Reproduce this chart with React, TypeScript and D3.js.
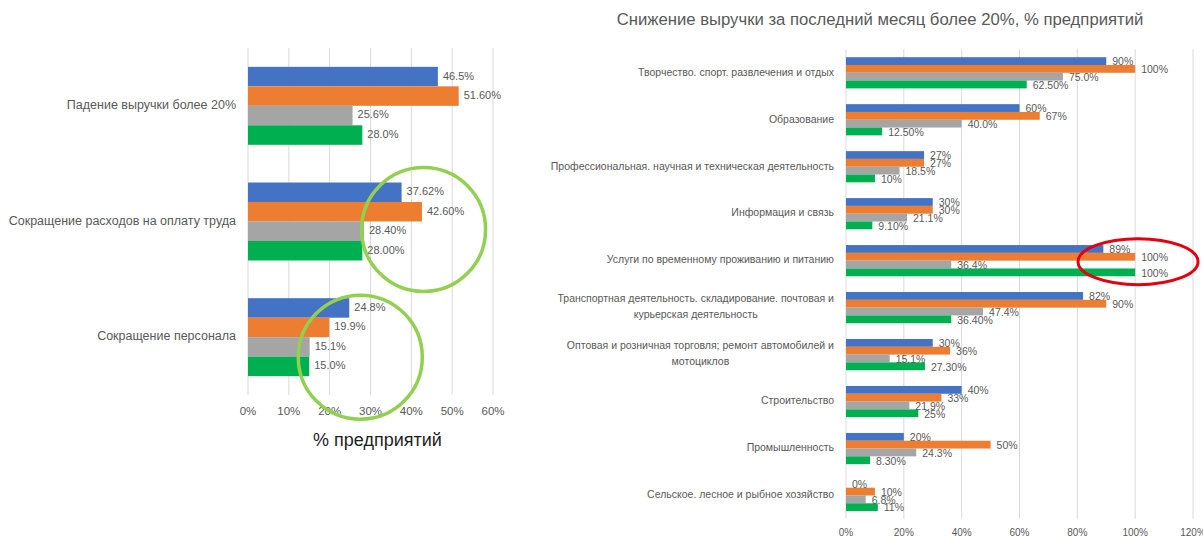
import React, { useRef, useEffect } from 'react';
import * as d3 from 'd3';

const W = 1203;
const H = 540;

const COLORS = ['#4472C4', '#ED7D31', '#A5A5A5', '#00B050'];
const TEXT = '#595959';
const GRID = '#D9D9D9';
const FONT = 'Liberation Sans, Arial, sans-serif';

// left chart
const leftCategories = ['Падение выручки более 20%', 'Сокращение расходов на оплату труда', 'Сокращение персонала'];
const leftBlue = [46.5, 37.62, 24.8];
const leftOrange = [51.6, 42.6, 19.9];
const leftGray = [25.6, 28.4, 15.1];
const leftGreen = [28.0, 28.0, 15.0];
const leftBlueLbl = ['46.5%', '37.62%', '24.8%'];
const leftOrangeLbl = ['51.60%', '42.60%', '19.9%'];
const leftGrayLbl = ['25.6%', '28.40%', '15.1%'];
const leftGreenLbl = ['28.0%', '28.00%', '15.0%'];
const leftTicks = [0, 10, 20, 30, 40, 50, 60];
const leftAxisTitle = '% предприятий';

// right chart
const rightTitle = 'Снижение выручки за последний месяц более 20%, % предприятий';
const rightCategories = [
  ['Творчество. спорт. развлечения и отдых'],
  ['Образование'],
  ['Профессиональная. научная и техническая деятельность'],
  ['Информация и связь'],
  ['Услуги по временному проживанию и питанию'],
  ['Транспортная деятельность. складирование. почтовая и', 'курьерская деятельность'],
  ['Оптовая и розничная торговля; ремонт автомобилей и', 'мотоциклов'],
  ['Строительство'],
  ['Промышленность'],
  ['Сельское. лесное и рыбное хозяйство'],
];
const rightBlue = [90, 60, 27, 30, 89, 82, 30, 40, 20, 0];
const rightOrange = [100, 67, 27, 30, 100, 90, 36, 33, 50, 10];
const rightGray = [75.0, 40.0, 18.5, 21.1, 36.4, 47.4, 15.1, 21.9, 24.3, 6.8];
const rightGreen = [62.5, 12.5, 10, 9.1, 100, 36.4, 27.3, 25, 8.3, 11];
const rightBlueLbl = ['90%', '60%', '27%', '30%', '89%', '82%', '30%', '40%', '20%', '0%'];
const rightOrangeLbl = ['100%', '67%', '27%', '30%', '100%', '90%', '36%', '33%', '50%', '10%'];
const rightGrayLbl = ['75.0%', '40.0%', '18.5%', '21.1%', '36.4%', '47.4%', '15.1%', '21.9%', '24.3%', '6.8%'];
const rightGreenLbl = ['62.50%', '12.50%', '10%', '9.10%', '100%', '36.40%', '27.30%', '25%', '8.30%', '11%'];
const rightTicks = [0, 20, 40, 60, 80, 100, 120];

const App: React.FC = () => {
  const svgRef = useRef<SVGSVGElement>(null);

  useEffect(() => {
    if (!svgRef.current) return;
    const svg = d3.select(svgRef.current);
    svg.selectAll('*').remove();

    // ---------- left chart ----------
    const lx = d3.scaleLinear().domain([0, 60]).range([248, 493]);
    const ly = d3
      .scaleBand<number>()
      .domain(d3.range(leftCategories.length))
      .range([48, 395])
      .paddingInner(0.326)
      .paddingOuter(0.163);
    const lsub = d3.scaleBand<number>().domain([0, 1, 2, 3]).range([0, ly.bandwidth()]);
    const lg = svg.append('g');

    lg.selectAll('line.grid')
      .data(leftTicks)
      .join('line')
      .attr('x1', (d) => lx(d))
      .attr('x2', (d) => lx(d))
      .attr('y1', 48)
      .attr('y2', 395)
      .attr('stroke', GRID)
      .attr('stroke-width', 1);

    lg.selectAll('text.tick')
      .data(leftTicks)
      .join('text')
      .attr('x', (d) => lx(d))
      .attr('y', 412)
      .attr('text-anchor', 'middle')
      .attr('dominant-baseline', 'middle')
      .attr('fill', TEXT)
      .attr('font-size', '11.5px')
      .attr('font-family', FONT)
      .text((d) => `${d}%`);

    lg.append('text')
      .attr('x', 377.5)
      .attr('y', 441)
      .attr('text-anchor', 'middle')
      .attr('dominant-baseline', 'middle')
      .attr('fill', '#1e1e1e')
      .attr('font-size', '18px')
      .attr('font-family', FONT)
      .text(leftAxisTitle);

    lg.selectAll('text.cat')
      .data(leftCategories)
      .join('text')
      .attr('x', 236)
      .attr('y', (_, i) => (ly(i) ?? 0) + ly.bandwidth() / 2)
      .attr('text-anchor', 'end')
      .attr('dominant-baseline', 'middle')
      .attr('fill', TEXT)
      .attr('font-size', '12.5px')
      .attr('font-family', FONT)
      .text((d) => d);

    const leftSeries = [leftBlue, leftOrange, leftGray, leftGreen];
    const leftLabels = [leftBlueLbl, leftOrangeLbl, leftGrayLbl, leftGreenLbl];
    leftSeries.forEach((vals, s) => {
      vals.forEach((v, i) => {
        const y0 = (ly(i) ?? 0) + (lsub(s) ?? 0);
        lg.append('rect')
          .attr('x', lx(0))
          .attr('y', y0)
          .attr('width', lx(v) - lx(0))
          .attr('height', lsub.bandwidth())
          .attr('fill', COLORS[s]);
        lg.append('text')
          .attr('x', lx(v) + 5)
          .attr('y', y0 + lsub.bandwidth() / 2)
          .attr('dominant-baseline', 'middle')
          .attr('fill', TEXT)
          .attr('font-size', '11px')
          .attr('font-family', FONT)
          .text(leftLabels[s][i]);
      });
    });

    // annotation circles (in data units)
    const circles = [
      { v: 43, cat: 1, dy: 8 },
      { v: 27.5, cat: 2, dy: 20 },
    ];
    circles.forEach((c) => {
      lg.append('circle')
        .attr('cx', lx(c.v))
        .attr('cy', (ly(c.cat) ?? 0) + ly.bandwidth() / 2 + c.dy)
        .attr('r', 62)
        .attr('fill', 'none')
        .attr('stroke', '#92D050')
        .attr('stroke-width', 3.5);
    });

    // ---------- right chart ----------
    const rx = d3.scaleLinear().domain([0, 120]).range([846, 1193]);
    const ry = d3
      .scaleBand<number>()
      .domain(d3.range(rightCategories.length))
      .range([49.3, 519])
      .paddingInner(0.336)
      .paddingOuter(0.168);
    const rsub = d3.scaleBand<number>().domain([0, 1, 2, 3]).range([0, ry.bandwidth()]);
    const rg = svg.append('g');

    rg.append('text')
      .attr('x', 880)
      .attr('y', 21)
      .attr('text-anchor', 'middle')
      .attr('dominant-baseline', 'middle')
      .attr('fill', TEXT)
      .attr('font-size', '16.7px')
      .attr('font-family', FONT)
      .text(rightTitle);

    rg.selectAll('line.grid')
      .data(rightTicks)
      .join('line')
      .attr('x1', (d) => rx(d))
      .attr('x2', (d) => rx(d))
      .attr('y1', 49)
      .attr('y2', 519)
      .attr('stroke', GRID)
      .attr('stroke-width', 1);

    rg.selectAll('text.tick')
      .data(rightTicks)
      .join('text')
      .attr('x', (d) => rx(d))
      .attr('y', 533)
      .attr('text-anchor', 'middle')
      .attr('dominant-baseline', 'middle')
      .attr('fill', TEXT)
      .attr('font-size', '10px')
      .attr('font-family', FONT)
      .text((d) => `${d}%`);

    rightCategories.forEach((lines, i) => {
      const cy = (ry(i) ?? 0) + ry.bandwidth() / 2;
      const lh = 16;
      const first = rg
        .append('text')
        .attr('x', 834)
        .attr('y', cy - ((lines.length - 1) * lh) / 2)
        .attr('text-anchor', 'end')
        .attr('dominant-baseline', 'middle')
        .attr('fill', TEXT)
        .attr('font-size', '10.5px')
        .attr('font-family', FONT)
        .text(lines[0]);
      if (lines.length > 1) {
        const w = (first.node() as SVGTextElement).getComputedTextLength();
        rg.append('text')
          .attr('x', 834 - w / 2)
          .attr('y', cy + lh / 2)
          .attr('text-anchor', 'middle')
          .attr('dominant-baseline', 'middle')
          .attr('fill', TEXT)
          .attr('font-size', '10.5px')
          .attr('font-family', FONT)
          .text(lines[1]);
      }
    });

    const rightSeries = [rightBlue, rightOrange, rightGray, rightGreen];
    const rightLabels = [rightBlueLbl, rightOrangeLbl, rightGrayLbl, rightGreenLbl];
    rightSeries.forEach((vals, s) => {
      vals.forEach((v, i) => {
        const y0 = (ry(i) ?? 0) + (rsub(s) ?? 0);
        rg.append('rect')
          .attr('x', rx(0))
          .attr('y', y0)
          .attr('width', rx(v) - rx(0))
          .attr('height', rsub.bandwidth())
          .attr('fill', COLORS[s]);
      });
    });
    rightSeries.forEach((vals, s) => {
      vals.forEach((v, i) => {
        const y0 = (ry(i) ?? 0) + (rsub(s) ?? 0);
        rg.append('text')
          .attr('x', rx(v) + 6)
          .attr('y', y0 + rsub.bandwidth() / 2 + 1.5)
          .attr('dominant-baseline', 'middle')
          .attr('fill', TEXT)
          .attr('font-size', '10.5px')
          .attr('font-family', FONT)
          .text(rightLabels[s][i]);
      });
    });

    // red highlight ellipse around the accommodation row
    rg.append('ellipse')
      .attr('cx', rx(101))
      .attr('cy', (ry(4) ?? 0) + ry.bandwidth() / 2 + 1)
      .attr('rx', 60)
      .attr('ry', 23)
      .attr('fill', 'none')
      .attr('stroke', '#E3000F')
      .attr('stroke-width', 3);
  }, []);

  return (
    <svg
      ref={svgRef}
      width={W}
      height={H}
      style={{ position: 'absolute', left: 0, top: 0, background: '#fff' }}
    />
  );
};

export default App;
